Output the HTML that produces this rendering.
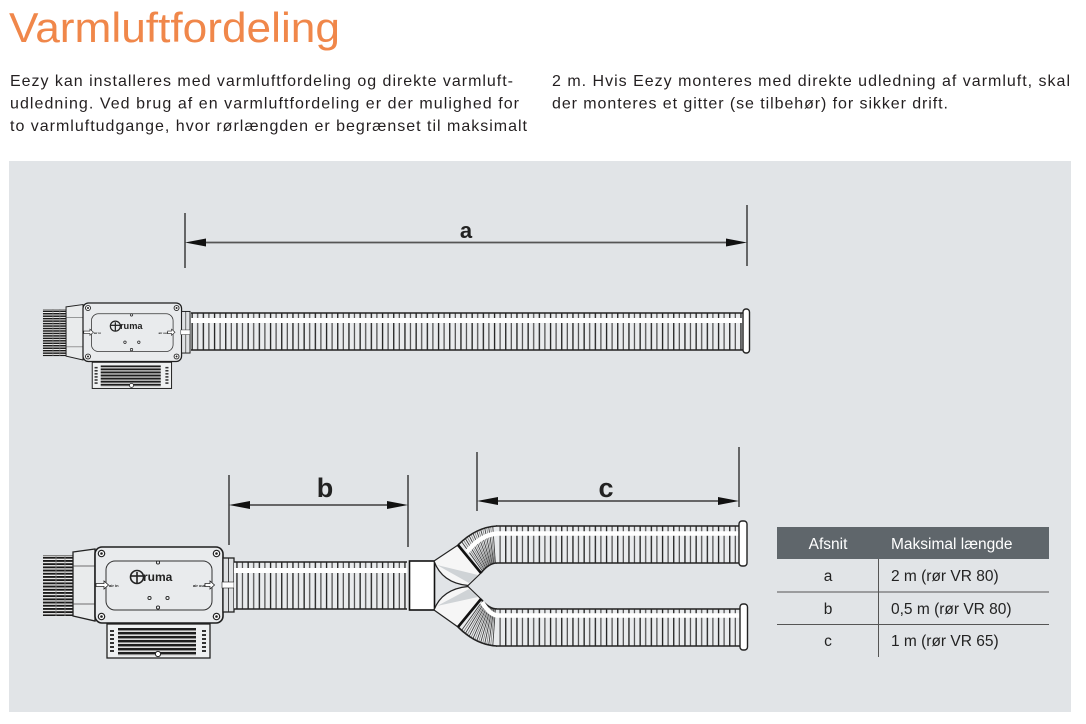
<!DOCTYPE html>
<html><head><meta charset="utf-8"><style>
html,body{margin:0;padding:0;background:#fff;}
svg{display:block;font-family:"Liberation Sans",Arial,sans-serif;}
</style></head><body>
<svg width="1086" height="724" viewBox="0 0 1086 724" xmlns="http://www.w3.org/2000/svg">
<defs>
 <pattern id="rib" patternUnits="userSpaceOnUse" width="11.2" height="20" x="191" y="0">
   <rect width="11.2" height="20" fill="#e9ebed"/>
   <rect x="0.5" width="1.3" height="20" fill="#1e1e1e"/>
   <rect x="6.1" width="1.2" height="20" fill="#4a4a4a"/>
 </pattern>
 <pattern id="fin" patternUnits="userSpaceOnUse" width="10" height="3.2">
   <rect width="10" height="3.2" fill="#f0f0f0"/>
   <rect width="10" height="1.9" fill="#1a1a1a"/>
 </pattern>
 <pattern id="fin2" patternUnits="userSpaceOnUse" width="10" height="4">
   <rect width="10" height="4" fill="#dcdcdc"/>
   <rect width="10" height="2.4" fill="#1e1e1e"/>
 </pattern>
 <g id="unit">
   <rect x="43" y="555" width="30" height="61" fill="url(#fin)"/>
   <line x1="56" y1="555" x2="56" y2="616" stroke="#888" stroke-width="0.8"/>
   <line x1="65" y1="555" x2="65" y2="616" stroke="#888" stroke-width="0.8"/>
   <polygon points="73,552 95,549 95,621 73,616" fill="#e9ebec" stroke="#222" stroke-width="1.3"/>
   <line x1="73" y1="566" x2="95" y2="566" stroke="#444" stroke-width="0.7"/>
   <line x1="73" y1="604" x2="95" y2="604" stroke="#444" stroke-width="0.7"/>
   <rect x="114" y="621" width="9" height="4" fill="#fff" stroke="#333" stroke-width="0.6"/>
   <rect x="131" y="621" width="9" height="4" fill="#fff" stroke="#333" stroke-width="0.6"/>
   <rect x="148" y="621" width="9" height="4" fill="#fff" stroke="#333" stroke-width="0.6"/>
   <rect x="165" y="621" width="9" height="4" fill="#fff" stroke="#333" stroke-width="0.6"/>
   <rect x="182" y="621" width="9" height="4" fill="#fff" stroke="#333" stroke-width="0.6"/>
   <rect x="198" y="621" width="9" height="4" fill="#fff" stroke="#333" stroke-width="0.6"/>
   <rect x="95" y="547" width="128" height="76" rx="7" fill="#e9ebed" stroke="#1e1e1e" stroke-width="1.6"/>
   <g fill="#fff" stroke="#222" stroke-width="1.2">
     <circle cx="101.5" cy="553.5" r="3.2"/><circle cx="216.5" cy="553.5" r="3.2"/>
     <circle cx="101.5" cy="616.5" r="3.2"/><circle cx="216.5" cy="616.5" r="3.2"/>
   </g>
   <g fill="#222">
     <circle cx="101.5" cy="553.5" r="1.3"/><circle cx="216.5" cy="553.5" r="1.3"/>
     <circle cx="101.5" cy="616.5" r="1.3"/><circle cx="216.5" cy="616.5" r="1.3"/>
   </g>
   <rect x="106" y="561" width="106" height="49" rx="9" fill="none" stroke="#333" stroke-width="1"/>
   <circle cx="137" cy="577" r="6.5" fill="none" stroke="#222" stroke-width="1.6"/>
   <line x1="131" y1="576" x2="143" y2="576" stroke="#222" stroke-width="1.6"/>
   <line x1="137" y1="572" x2="137" y2="583" stroke="#222" stroke-width="1.6"/>
   <text x="143" y="581" font-size="12" font-weight="bold" fill="#222">ruma</text>
   <g fill="none" stroke="#222" stroke-width="0.9">
     <circle cx="158" cy="562.5" r="1.6"/><circle cx="149.5" cy="598" r="1.6"/>
     <circle cx="167.5" cy="598" r="1.6"/><circle cx="158" cy="607.5" r="1.6"/>
   </g>
   <path d="M96,583.5 h8 v-2.5 l4.5,4 l-4.5,4 v-2.5 h-8 z" fill="#fff" stroke="#222" stroke-width="0.8"/>
   <text x="109" y="587" font-size="4" font-weight="bold" fill="#222">air in</text>
   <text x="193" y="587" font-size="4" font-weight="bold" fill="#222">air out</text>
   <path d="M205,583.5 h5 v-2.5 l4.5,4 l-4.5,4 v-2.5 h-5 z" fill="#fff" stroke="#222" stroke-width="0.8"/>
   <rect x="107" y="624" width="103" height="34" fill="#eef0f1" stroke="#222" stroke-width="1.3"/>
   <rect x="118" y="628" width="78" height="28" fill="url(#fin2)"/>
   <g fill="#333">
     <rect x="110" y="630" width="4" height="2"/><rect x="110" y="634" width="4" height="2"/>
     <rect x="110" y="638" width="4" height="2"/><rect x="110" y="642" width="4" height="2"/>
     <rect x="110" y="646" width="4" height="2"/><rect x="110" y="650" width="4" height="2"/>
     <rect x="202" y="630" width="4" height="2"/><rect x="202" y="634" width="4" height="2"/>
     <rect x="202" y="638" width="4" height="2"/><rect x="202" y="642" width="4" height="2"/>
     <rect x="202" y="646" width="4" height="2"/><rect x="202" y="650" width="4" height="2"/>
   </g>
   <circle cx="158" cy="654" r="2.6" fill="#fff" stroke="#222" stroke-width="1"/>
   <rect x="223" y="558" width="11" height="54" fill="#dfe1e3" stroke="#222" stroke-width="1.3"/>
   <line x1="228.5" y1="558" x2="228.5" y2="612" stroke="#222" stroke-width="0.8"/>
   <rect x="222" y="582" width="12" height="6" fill="#fff" stroke="#222" stroke-width="0.6"/>
 </g>
</defs>

<text x="9" y="42" font-size="42" fill="#f0874a" textLength="331" lengthAdjust="spacingAndGlyphs">Varmluftfordeling</text>
<g font-size="16" fill="#231f20">
 <text x="10" y="86" textLength="503" lengthAdjust="spacing">Eezy kan installeres med varmluftfordeling og direkte varmluft-</text>
 <text x="10" y="108.5" textLength="509" lengthAdjust="spacing">udledning. Ved brug af en varmluftfordeling er der mulighed for</text>
 <text x="10" y="131" textLength="517" lengthAdjust="spacing">to varmluftudgange, hvor rørlængden er begrænset til maksimalt</text>
 <text x="552" y="86" textLength="518" lengthAdjust="spacing">2 m. Hvis Eezy monteres med direkte udledning af varmluft, skal</text>
 <text x="552" y="108.5" textLength="396" lengthAdjust="spacing">der monteres et gitter (se tilbehør) for sikker drift.</text>
</g>

<rect x="9" y="161" width="1062" height="551" fill="#e1e4e7"/>

<line x1="185" y1="213" x2="185" y2="268" stroke="#222" stroke-width="1.3"/>
<line x1="747" y1="205" x2="747" y2="266" stroke="#222" stroke-width="1.3"/>
<line x1="195" y1="242.5" x2="737" y2="242.5" stroke="#555" stroke-width="1.8"/>
<polygon points="185,242.5 206,238.5 206,246.5" fill="#111"/>
<polygon points="747,242.5 726,238.5 726,246.5" fill="#111"/>
<text x="466" y="238" font-size="22" font-weight="bold" fill="#222" text-anchor="middle">a</text>

<line x1="229" y1="475" x2="229" y2="545" stroke="#222" stroke-width="1.3"/>
<line x1="408" y1="475" x2="408" y2="547" stroke="#222" stroke-width="1.3"/>
<line x1="239" y1="505" x2="398" y2="505" stroke="#555" stroke-width="1.8"/>
<polygon points="229,505 250,501 250,509" fill="#111"/>
<polygon points="408,505 387,501 387,509" fill="#111"/>
<text x="325" y="497" font-size="27" font-weight="bold" fill="#222" text-anchor="middle">b</text>

<line x1="477" y1="452" x2="477" y2="511" stroke="#222" stroke-width="1.3"/>
<line x1="739" y1="447" x2="739" y2="507" stroke="#222" stroke-width="1.3"/>
<line x1="487" y1="501" x2="729" y2="501" stroke="#555" stroke-width="1.8"/>
<polygon points="477,501 498,497 498,505" fill="#111"/>
<polygon points="739,501 718,497 718,505" fill="#111"/>
<text x="606" y="497" font-size="27" font-weight="bold" fill="#222" text-anchor="middle">c</text>

<use href="#unit"/>
<use href="#unit" transform="translate(9.85,-118.2) scale(0.77)"/>

<rect x="191" y="313" width="552" height="37" fill="url(#rib)"/>
<rect x="191" y="318" width="552" height="5" fill="#fff"/>
<line x1="191" y1="313" x2="743" y2="313" stroke="#222" stroke-width="1.6"/>
<line x1="191" y1="350" x2="743" y2="350" stroke="#222" stroke-width="1.6"/>
<rect x="743" y="309" width="6.5" height="44" rx="3" fill="#fff" stroke="#222" stroke-width="1.4"/>

<rect x="234" y="562" width="173" height="47" fill="url(#rib)"/>
<rect x="234" y="568" width="173" height="5" fill="#fff"/>
<line x1="234" y1="562" x2="407" y2="562" stroke="#222" stroke-width="1.6"/>
<line x1="234" y1="609" x2="407" y2="609" stroke="#222" stroke-width="1.6"/>

<rect x="409.5" y="561" width="25" height="49" fill="#fff" stroke="#111" stroke-width="1.6"/>

<rect x="496" y="526" width="244" height="37" fill="url(#rib)"/>
<line x1="496" y1="526" x2="740" y2="526" stroke="#222" stroke-width="1.6"/>
<line x1="496" y1="563" x2="740" y2="563" stroke="#222" stroke-width="1.6"/>
<g id="bend">
 <path d="M458,545 Q476,527 497,526 L497,563 Q489,563 481,573 Z" fill="#e9ebed"/>
 <g stroke="#333" stroke-width="0.8">
  <line x1="461.6" y1="541.6" x2="482.6" y2="571.1"/>
  <line x1="465.3" y1="538.5" x2="484.2" y2="569.4"/>
  <line x1="469.1" y1="535.7" x2="485.8" y2="567.9"/>
  <line x1="472.9" y1="533.3" x2="487.4" y2="566.6"/>
  <line x1="476.8" y1="531.3" x2="489" y2="565.5"/>
  <line x1="480.7" y1="529.5" x2="490.6" y2="564.6"/>
  <line x1="484.7" y1="528.1" x2="492.2" y2="563.9"/>
  <line x1="488.7" y1="527.1" x2="493.8" y2="563.4"/>
  <line x1="492.8" y1="526.4" x2="495.4" y2="563.1"/>
 </g>
 <g stroke="#777" stroke-width="0.7">
  <line x1="463.4" y1="540" x2="483.4" y2="570.2"/>
  <line x1="467.2" y1="537.1" x2="485" y2="568.6"/>
  <line x1="471" y1="534.5" x2="486.6" y2="567.2"/>
  <line x1="474.8" y1="532.3" x2="488.2" y2="566"/>
  <line x1="478.7" y1="530.4" x2="489.8" y2="565"/>
  <line x1="482.7" y1="528.8" x2="491.4" y2="564.2"/>
  <line x1="486.7" y1="527.6" x2="493" y2="563.6"/>
  <line x1="490.7" y1="526.7" x2="494.6" y2="563.2"/>
 </g>
 <path d="M458,545 Q476,527 497,526" fill="none" stroke="#222" stroke-width="1.6"/>
 <path d="M481,573 Q489,563 497,563" fill="none" stroke="#222" stroke-width="1.6"/>
</g>
<path d="M467,552 Q480,535 497,533.5 L739,533.5" fill="none" stroke="#fff" stroke-width="4.5"/>
<rect x="739" y="521" width="8" height="45" rx="3" fill="#fff" stroke="#222" stroke-width="1.4"/>

<rect x="496" y="609" width="244" height="37" fill="url(#rib)"/>
<line x1="496" y1="609" x2="740" y2="609" stroke="#222" stroke-width="1.6"/>
<line x1="496" y1="646" x2="740" y2="646" stroke="#222" stroke-width="1.6"/>
<use href="#bend" transform="translate(0,1172) scale(1,-1)"/>
<path d="M482,602 Q489,614 497,615.5 L740,615.5" fill="none" stroke="#fff" stroke-width="4.5"/>
<rect x="740" y="604" width="7.5" height="46" rx="3" fill="#fff" stroke="#222" stroke-width="1.4"/>

<path d="M434,561 L458,545 L481,573 L468,585.5 Q442,583 434,561 Z" fill="#f6f6f6" stroke="#222" stroke-width="1.2"/>
<polygon points="437,565 478,575 469,583" fill="#cfd3d6"/>
<line x1="458" y1="545" x2="481" y2="573" stroke="#111" stroke-width="2.6"/>
<path d="M434,610 L458,627 L481,599 L468,586.5 Q442,589 434,610 Z" fill="#f6f6f6" stroke="#222" stroke-width="1.2"/>
<polygon points="437,606 478,597 469,589" fill="#cfd3d6"/>
<line x1="458" y1="627" x2="481" y2="599" stroke="#111" stroke-width="2.6"/>

<rect x="777" y="527" width="272" height="32" fill="#5f666b"/>
<line x1="777" y1="592" x2="1049" y2="592" stroke="#555" stroke-width="1"/>
<line x1="777" y1="624.5" x2="1049" y2="624.5" stroke="#555" stroke-width="1"/>
<line x1="878.5" y1="559" x2="878.5" y2="657" stroke="#555" stroke-width="1"/>
<g font-size="15.5">
 <text x="828" y="549" fill="#fff" text-anchor="middle">Afsnit</text>
 <text x="891" y="549" fill="#fff">Maksimal længde</text>
 <text x="828" y="581" fill="#222" text-anchor="middle">a</text>
 <text x="891" y="581" fill="#222">2 m (rør VR 80)</text>
 <text x="828" y="614" fill="#222" text-anchor="middle">b</text>
 <text x="891" y="614" fill="#222">0,5 m (rør VR 80)</text>
 <text x="828" y="646" fill="#222" text-anchor="middle">c</text>
 <text x="891" y="646" fill="#222">1 m (rør VR 65)</text>
</g>
</svg>
</body></html>
